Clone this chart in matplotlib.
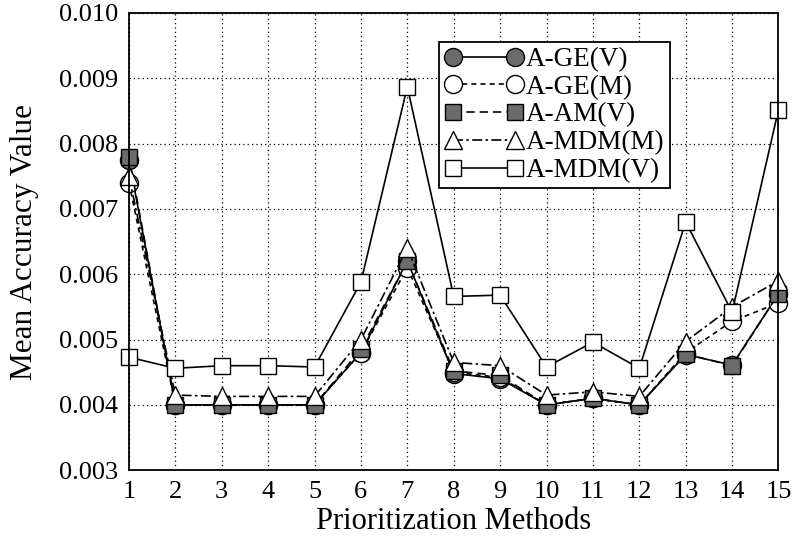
import numpy as np
import matplotlib.pyplot as plt

plt.rcParams['font.family'] = ['Liberation Serif', 'DejaVu Serif']

methods = list(range(1, 16))

ge_v = [0.00775, 0.0040, 0.0040, 0.0040, 0.0040, 0.0048, 0.0062, 0.00448, 0.0044,
        0.0040, 0.0041, 0.0040, 0.00477, 0.00461, 0.0057]
ge_m = [0.0074, 0.0040, 0.0040, 0.0040, 0.0040, 0.0048, 0.0061, 0.0045, 0.00442,
        0.0040, 0.0041, 0.0040, 0.0048, 0.00528, 0.00556]
am_v = [0.0078, 0.0040, 0.0040, 0.0040, 0.0040, 0.00485, 0.0062, 0.00452, 0.00445,
        0.0040, 0.0041, 0.0040, 0.00478, 0.0046, 0.0057]
mdm_m = [0.0075, 0.00415, 0.00413, 0.00413, 0.00413, 0.0050, 0.0064, 0.00465, 0.0046,
         0.00415, 0.0042, 0.00413, 0.00497, 0.0055, 0.0059]
mdm_v = [0.00473, 0.00456, 0.0046, 0.0046, 0.00458, 0.00588, 0.00887, 0.00566, 0.00568,
         0.00458, 0.00496, 0.00456, 0.0068, 0.00542, 0.00852]

fig = plt.figure(figsize=(7.96, 5.38), dpi=100)
ax = fig.add_axes([0.162, 0.126, 0.816, 0.850])

lw = 1.2
ax.plot(methods, ge_v, '-', color='black', lw=lw, marker='o', ms=13,
        mfc='0.42', mec='black', mew=1.0, label='A-GE(V)', zorder=3)
ax.plot(methods, ge_m, color='black', lw=lw, ls=(0, (3, 2.5)), marker='o', ms=13,
        mfc='white', mec='black', mew=1.0, label='A-GE(M)', zorder=4)
ax.plot(methods, am_v, color='black', lw=lw, ls=(0, (5, 3)), marker='s', ms=11,
        mfc='0.42', mec='black', mew=1.0, label='A-AM(V)', zorder=5)
ax.plot(methods, mdm_m, color='black', lw=lw, ls=(0, (6, 2, 1.5, 2)), marker='^', ms=13,
        mfc='white', mec='black', mew=1.0, label='A-MDM(M)', zorder=6)
ax.plot(methods, mdm_v, '-', color='black', lw=lw, marker='s', ms=12,
        mfc='white', mec='black', mew=1.0, label='A-MDM(V)', zorder=7)

ax.set_xlim(1, 15)
ax.set_ylim(0.003, 0.010)
ax.set_xticks(methods)
yticks = np.arange(0.003, 0.0101, 0.001)
ax.set_yticks(yticks)
ax.set_yticklabels([f'{v:.3f}' for v in yticks])
ax.tick_params(labelsize=19, length=0, pad=8)
ax.grid(True, color='black', ls=(0, (1, 2.5)), lw=0.9)
for s in ax.spines.values():
    s.set_linewidth(1.3)
    s.set_zorder(10)
for line in ax.lines:
    line.set_clip_on(False)

ax.set_xlabel('Prioritization Methods', fontsize=22, labelpad=3)
ax.set_ylabel('Mean Accuracy Value', fontsize=22.5, labelpad=14)

leg = ax.legend(loc='upper left', bbox_to_anchor=(0.478, 0.937), fontsize=19.5,
                numpoints=2, handlelength=2.9, handletextpad=0.1, borderpad=0.2,
                labelspacing=0.1, borderaxespad=0, fancybox=False, framealpha=1)
leg.get_frame().set_edgecolor('black')
leg.get_frame().set_linewidth(1.3)
leg.set_zorder(20)

fig.savefig('out.png', dpi=100)
